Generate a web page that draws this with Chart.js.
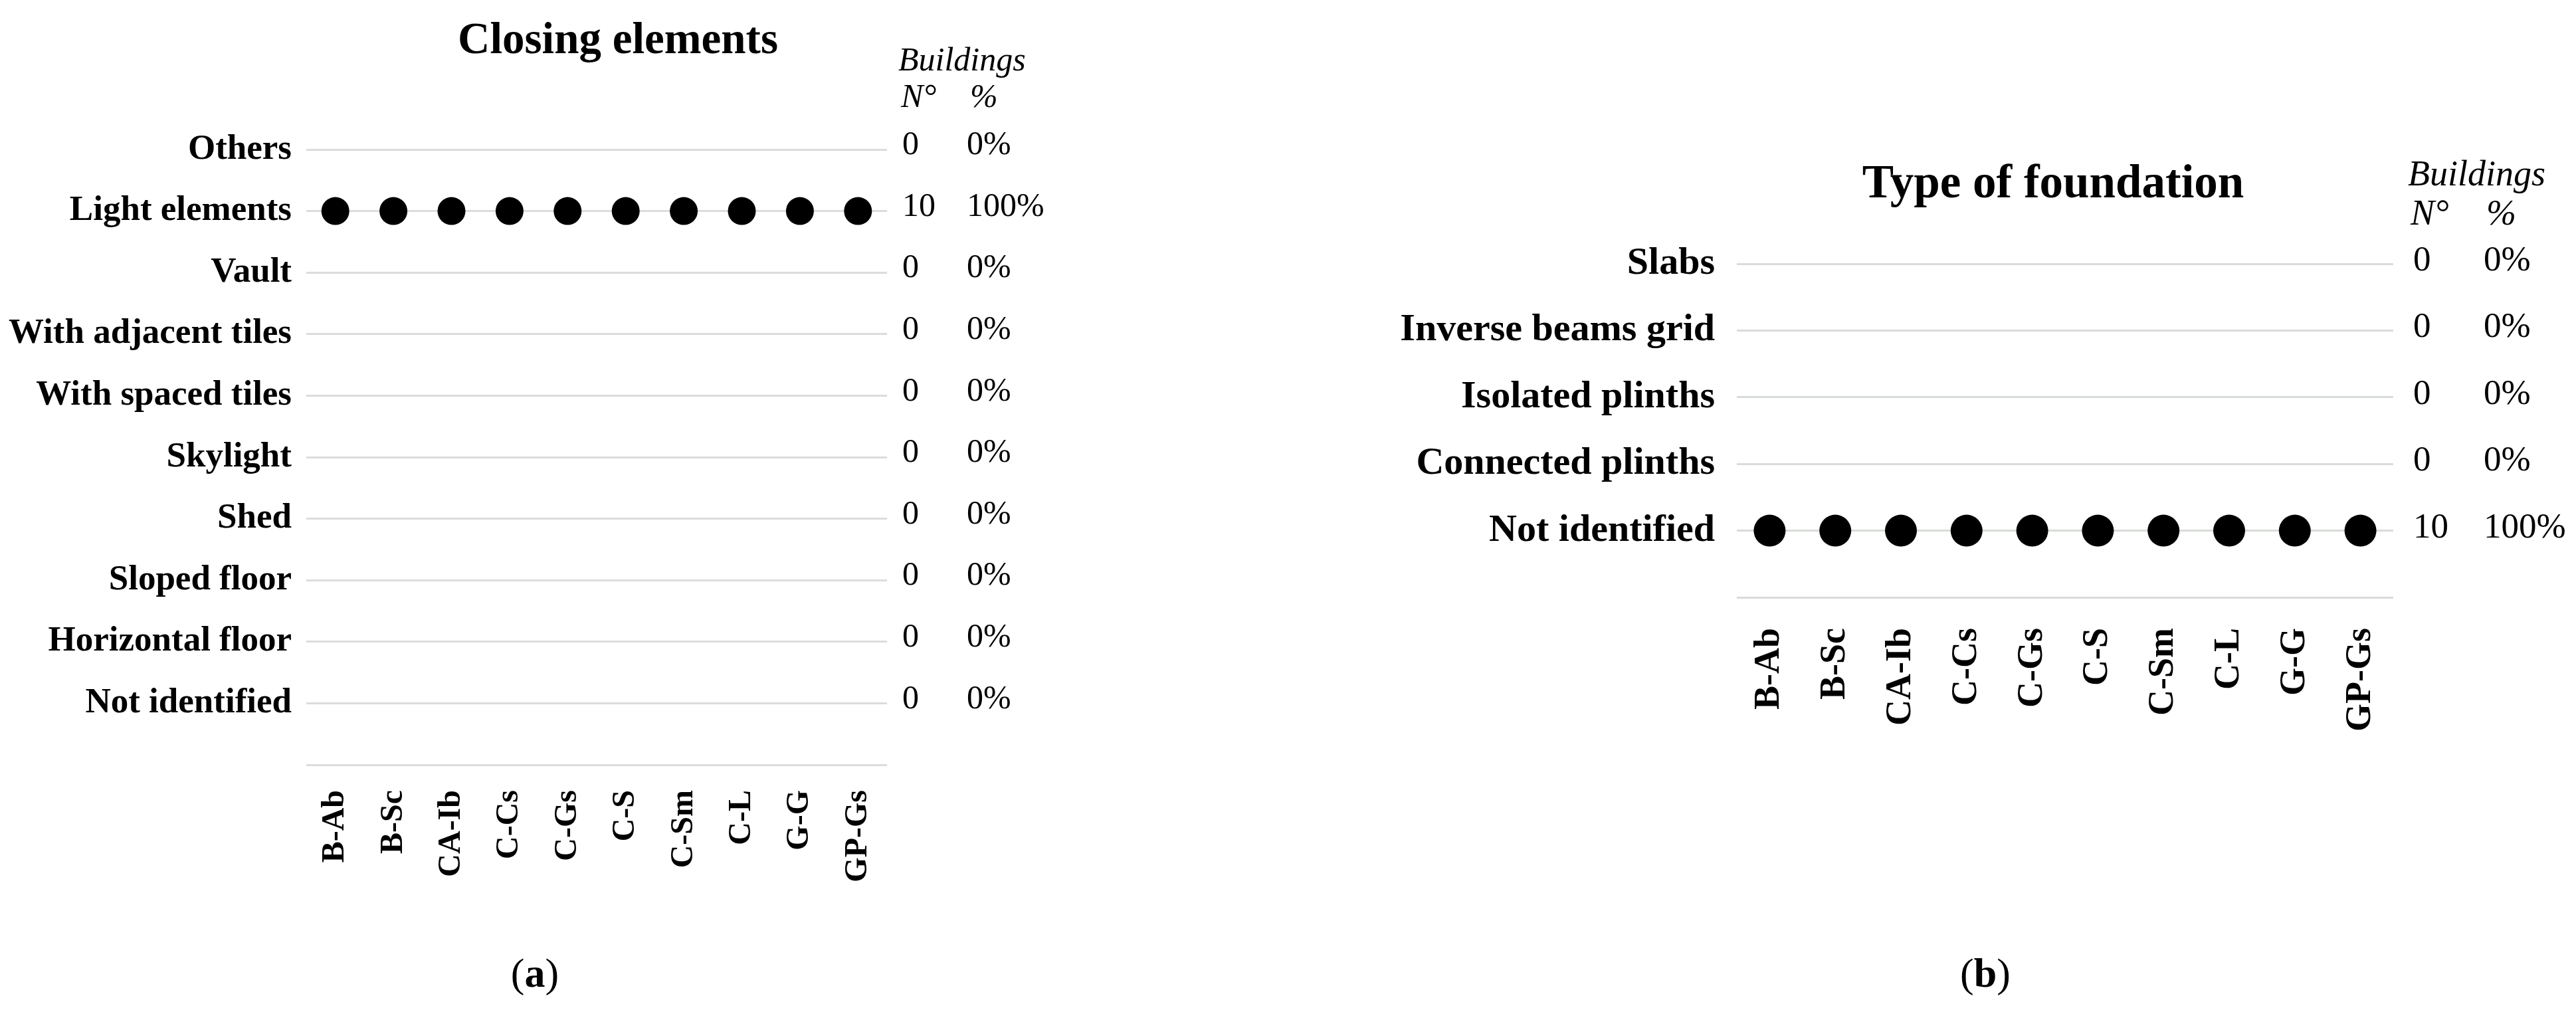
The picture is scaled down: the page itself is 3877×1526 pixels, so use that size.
<!DOCTYPE html>
<html>
<head>
<meta charset="utf-8">
<script src="https://cdn.jsdelivr.net/npm/chart.js@4.4.1/dist/chart.umd.min.js"></script>
<style>
  html, body { margin: 0; padding: 0; background: #fff; }
  #wrap { position: relative; width: 3877px; height: 1526px; overflow: hidden; }
  .panel { position: absolute; top: 0; }
</style>
</head>
<body>
<div id="wrap">
  <canvas id="closingChart" class="panel" style="left:0px" width="1900" height="1526"></canvas>
  <canvas id="foundationChart" class="panel" style="left:1900px" width="1977" height="1526"></canvas>
</div>
<script>
// Data
const buildings = ['B-Ab', 'B-Sc', 'CA-Ib', 'C-Cs', 'C-Gs', 'C-S', 'C-Sm', 'C-L', 'G-G', 'GP-Gs'];

const closingTypes = ['Others', 'Light elements', 'Vault', 'With adjacent tiles', 'With spaced tiles',
    'Skylight', 'Shed', 'Sloped floor', 'Horizontal floor', 'Not identified'];
const closingOfBuilding = ['Light elements', 'Light elements', 'Light elements', 'Light elements', 'Light elements',
    'Light elements', 'Light elements', 'Light elements', 'Light elements', 'Light elements'];
const closingCount = [0, 10, 0, 0, 0, 0, 0, 0, 0, 0];
const closingPct = ['0%', '100%', '0%', '0%', '0%', '0%', '0%', '0%', '0%', '0%'];

const foundationTypes = ['Slabs', 'Inverse beams grid', 'Isolated plinths', 'Connected plinths', 'Not identified'];
const foundationOfBuilding = ['Not identified', 'Not identified', 'Not identified', 'Not identified', 'Not identified',
    'Not identified', 'Not identified', 'Not identified', 'Not identified', 'Not identified'];
const foundationCount = [0, 0, 0, 0, 10];
const foundationPct = ['0%', '0%', '0%', '0%', '100%'];

const SERIF = '"Liberation Serif", "Times New Roman", serif';

// Title, "Buildings N° %" header, counts and caption drawn next to the plot
const sideText = {
    id: 'sideText',
    afterDraw(chart, args, o) {
        const ctx = chart.ctx;
        const yScale = chart.scales.y;
        ctx.save();
        ctx.fillStyle = '#000';

        ctx.textAlign = 'center';
        ctx.textBaseline = 'alphabetic';
        ctx.font = 'bold ' + o.titleSize + 'px ' + SERIF;
        ctx.fillText(o.title, o.titleX, o.titleY);

        ctx.textAlign = 'left';
        ctx.font = 'italic ' + o.headSize + 'px ' + SERIF;
        ctx.fillText('Buildings', o.headX, o.headY);
        ctx.fillText('N°', o.nX, o.nY);
        ctx.fillText('%', o.pX, o.nY);

        ctx.font = o.numSize + 'px ' + SERIF;
        ctx.textBaseline = 'middle';
        o.counts.forEach((c, i) => {
            const py = yScale.getPixelForValue(i) + o.numDy;
            ctx.fillText(String(c), o.countX, py);
            ctx.fillText(o.pcts[i], o.pctX, py);
        });

        // caption (a) / (b): regular parentheses, bold letter
        ctx.textBaseline = 'alphabetic';
        ctx.font = 'bold ' + o.capSize + 'px ' + SERIF;
        const wl = ctx.measureText(o.caption).width;
        ctx.font = o.capSize + 'px ' + SERIF;
        const wp = ctx.measureText('(').width;
        let x = o.capX - (wl + 2 * wp) / 2;
        ctx.fillText('(', x, o.capY);
        x += wp;
        ctx.font = 'bold ' + o.capSize + 'px ' + SERIF;
        ctx.fillText(o.caption, x, o.capY);
        x += wl;
        ctx.font = o.capSize + 'px ' + SERIF;
        ctx.fillText(')', x, o.capY);
        ctx.restore();
    }
};

function makeChart(id, rows, values, p) {
    const ctx = document.getElementById(id).getContext('2d');
    return new Chart(ctx, {
        type: 'line',
        data: {
            labels: buildings,
            datasets: [{
                data: values,
                showLine: false,
                pointRadius: p.radius,
                pointHoverRadius: p.radius,
                pointBackgroundColor: '#000',
                pointBorderColor: '#000',
                pointBorderWidth: 0
            }]
        },
        options: {
            responsive: false,
            animation: false,
            layout: {
                autoPadding: false,
                padding: { left: 0, top: p.top, right: p.right, bottom: p.bottom }
            },
            plugins: {
                legend: { display: false },
                tooltip: { enabled: false },
                sideText: p.text
            },
            scales: {
                x: {
                    type: 'category',
                    offset: true,
                    grid: { display: false },
                    border: { display: false },
                    ticks: {
                        autoSkip: false,
                        minRotation: 90,
                        maxRotation: 90,
                        padding: p.xPad,
                        color: '#000',
                        font: { family: SERIF, size: p.xFont, weight: 'bold' }
                    },
                    afterFit: s => { s.height = 250; }
                },
                y: {
                    type: 'category',
                    labels: rows.concat(['']),
                    offset: false,
                    grid: { color: p.gridColor, lineWidth: 3, drawTicks: false },
                    border: { display: false },
                    ticks: {
                        autoSkip: false,
                        padding: p.yPad,
                        color: '#000',
                        font: { family: SERIF, size: p.yFont, weight: 'bold' }
                    },
                    afterFit: s => { s.width = p.yWidth; }
                }
            }
        },
        plugins: [sideText]
    });
}

makeChart('closingChart', closingTypes, closingOfBuilding, {
    radius: 21, top: 225, right: 565, bottom: 125, yWidth: 461,
    xPad: 30, yPad: 22, xFont: 48, yFont: 53, gridColor: '#dcdcdc',
    text: {
        title: 'Closing elements', titleSize: 67, titleX: 930, titleY: 80,
        headSize: 50, headX: 1352, headY: 106, nX: 1356, pX: 1460, nY: 161,
        numSize: 50, numDy: -6, countX: 1358, pctX: 1455,
        counts: closingCount, pcts: closingPct,
        caption: 'a', capSize: 62, capX: 805, capY: 1485
    }
});

makeChart('foundationChart', foundationTypes, foundationOfBuilding, {
    radius: 24, top: 397, right: 275, bottom: 377, yWidth: 714,
    xPad: 38, yPad: 33, xFont: 54, yFont: 58, gridColor: '#d8dcd8',
    text: {
        title: 'Type of foundation', titleSize: 71, titleX: 1190, titleY: 297,
        headSize: 54, headX: 1724, headY: 279, nX: 1728, pX: 1842, nY: 338,
        numSize: 53, numDy: -4, countX: 1732, pctX: 1838,
        counts: foundationCount, pcts: foundationPct,
        caption: 'b', capSize: 62, capX: 1088, capY: 1485
    }
});
</script>
</body>
</html>
